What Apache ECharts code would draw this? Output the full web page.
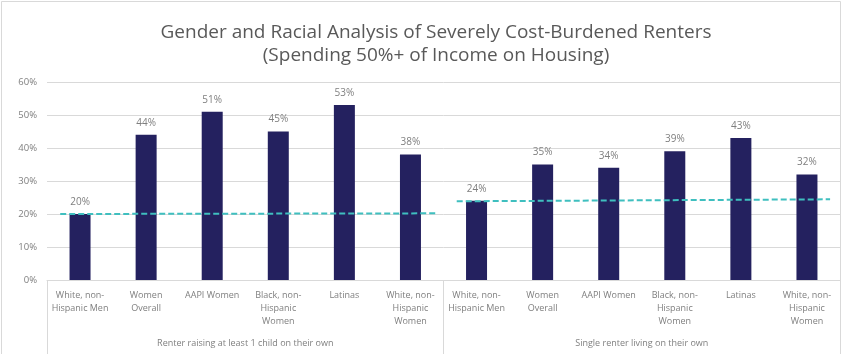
<!DOCTYPE html>
<html>
<head>
<meta charset="utf-8">
<script src="https://cdn.jsdelivr.net/npm/echarts@6/dist/echarts.min.js"></script>
<style>
  html, body { margin: 0; padding: 0; background: #ffffff; }
  #chart { width: 842px; height: 354px; }
</style>
</head>
<body>
<div id="chart"></div>
<script>
// Household groups along the bottom
const groups = ['Renter raising at least 1 child on their own', 'Single renter living on their own'];

// Demographic categories (repeated for each household group)
const categories = [
  'White, non-\nHispanic Men', 'Women\nOverall', 'AAPI Women',
  'Black, non-\nHispanic\nWomen', 'Latinas', 'White, non-\nHispanic\nWomen',
  'White, non-\nHispanic Men', 'Women\nOverall', 'AAPI Women',
  'Black, non-\nHispanic\nWomen', 'Latinas', 'White, non-\nHispanic\nWomen'
];

// Share severely cost-burdened (%)
const singleParentValues = [20, 44, 51, 45, 53, 38];
const singleRenterValues = [24, 35, 34, 39, 43, 32];
const values = singleParentValues.concat(singleRenterValues);

// Reference lines for each group: [category position, percent]
const parentRefLine = [[0.2, 20.0], [5.89, 20.2]];
const renterRefLine = [[6.2, 23.85], [11.85, 24.45]];

// Y axis ticks
const yMin = 0, yMax = 60, yStep = 10;

const chart = echarts.init(document.getElementById('chart'));
const fontFamily = '"Open Sans", "Noto Sans", sans-serif';

chart.setOption({
  animation: false,
  backgroundColor: '#ffffff',
  textStyle: { fontFamily: fontFamily },
  title: {
    text: 'Gender and Racial Analysis of Severely Cost-Burdened Renters\n(Spending 50%+ of Income on Housing)',
    left: 431,
    textAlign: 'center',
    top: 16,
    textStyle: {
      fontFamily: fontFamily,
      fontSize: 19,
      fontWeight: 'normal',
      color: '#595959',
      lineHeight: 23
    }
  },
  grid: { left: 47, right: 2, top: 82, bottom: 74, containLabel: false },
  xAxis: [
    {
      type: 'category',
      data: categories,
      position: 'bottom',
      axisLine: { show: true, lineStyle: { color: '#d9d9d9' } },
      axisTick: { show: false },
      axisLabel: {
        interval: 0,
        margin: 9,
        fontSize: 9,
        lineHeight: 13,
        color: '#7f7f7f',
        fontFamily: fontFamily
      }
    },
    {
      type: 'category',
      data: groups,
      position: 'bottom',
      axisLine: { show: false },
      axisTick: { show: true, length: 76, lineStyle: { color: '#d9d9d9' } },
      axisLabel: {
        interval: 0,
        margin: 59,
        fontSize: 9,
        color: '#7f7f7f',
        fontFamily: fontFamily
      }
    },
    {
      type: 'value',
      min: 0,
      max: 12,
      show: false
    }
  ],
  yAxis: {
    type: 'value',
    min: yMin,
    max: yMax,
    interval: yStep,
    axisLine: { show: false },
    axisTick: { show: false },
    splitLine: { lineStyle: { color: '#d9d9d9' } },
    axisLabel: {
      formatter: '{value}%',
      fontSize: 9.5,
      color: '#7f7f7f',
      margin: 10,
      fontFamily: fontFamily
    }
  },
  series: [
    {
      type: 'bar',
      xAxisIndex: 0,
      data: values,
      barWidth: 21,
      itemStyle: { color: '#24215f' },
      label: {
        show: true,
        position: 'top',
        distance: 7,
        formatter: '{c}%',
        fontSize: 10,
        color: '#7f7f7f',
        fontFamily: fontFamily
      }
    },
    {
      type: 'line',
      xAxisIndex: 2,
      data: parentRefLine,
      symbol: 'none',
      lineStyle: { color: '#3fbfbf', width: 2, type: [6, 3] },
      z: 5
    },
    {
      type: 'line',
      xAxisIndex: 2,
      data: renterRefLine,
      symbol: 'none',
      lineStyle: { color: '#3fbfbf', width: 2, type: [6, 3] },
      z: 5
    }
  ],
  graphic: [
    {
      type: 'rect',
      shape: { x: 1.5, y: 1.5, width: 839, height: 360 },
      style: { fill: 'none', stroke: '#d9d9d9', lineWidth: 1 },
      silent: true
    }
  ]
});
</script>
</body>
</html>
